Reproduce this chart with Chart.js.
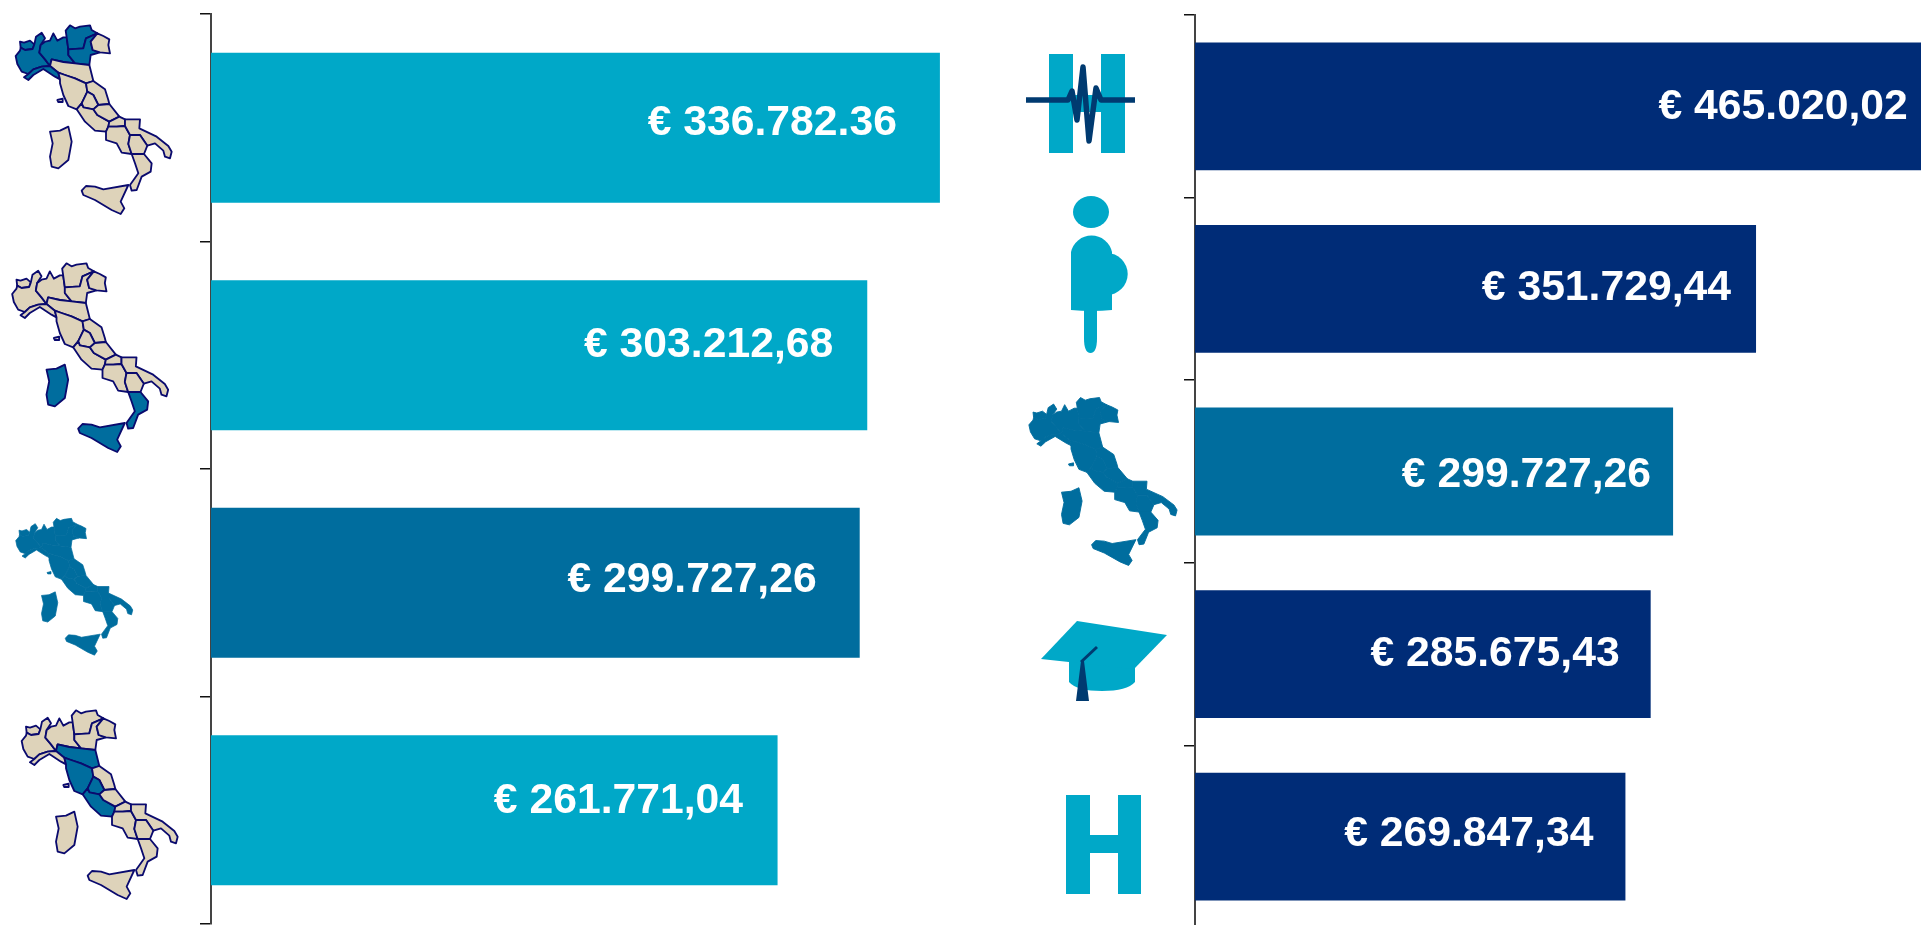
<!DOCTYPE html>
<html><head><meta charset="utf-8">
<script src="https://cdn.jsdelivr.net/npm/chart.js@4"></script>
<style>
html,body{margin:0;padding:0;background:#fff;overflow:hidden;width:1921px;height:925px}
#stage{position:relative;width:1921px;height:925px;overflow:hidden}
canvas{position:absolute}
svg{position:absolute;left:0;top:0}
</style></head><body>
<div id="stage">
<canvas id="left" width="988" height="940" style="left:0;top:0"></canvas>
<canvas id="right" width="960" height="940" style="left:1000px;top:0"></canvas>
<svg id="icons" width="1921" height="925" viewBox="0 0 1921 925"></svg>
</div>
<script>
const leftCategories=['Nord','Sud e Isole','Italia','Centro'];
const leftValues=[336782.36,303212.68,299727.26,261771.04];
const leftLabels=['€ 336.782.36','€ 303.212,68','€ 299.727,26','€ 261.771,04'];
const rightCategories=['Cardiologia','Ostetricia','Italia','Università','Ospedale'];
const rightValues=[465020.02,351729.44,299727.26,285675.43,269847.34];
const rightLabels=['€ 465.020,02','€ 351.729,44','€ 299.727,26','€ 285.675,43','€ 269.847,34'];

const CYAN='#00A8C8',TEAL='#006D9E',NAVY='#002C77',INK='#003A70';
const leftColors=[CYAN,CYAN,TEAL,CYAN];
const rightColors=[NAVY,NAVY,TEAL,NAVY,NAVY];

const labelPlugin={id:'barText',afterDatasetsDraw(c,_,o){
  const ctx=c.ctx,meta=c.getDatasetMeta(0),x=c.scales.x;
  ctx.save();ctx.fillStyle='#fff';ctx.font='bold 42.7px "Liberation Sans"';
  ctx.textAlign='right';ctx.textBaseline='middle';
  meta.data.forEach((b,i)=>{
    ctx.fillText(o.text[i],x.getPixelForValue(c.data.datasets[0].data[i])-o.dx[i],b.y+o.dy[i]);
  });
  ctx.restore();
}};
function build(id,cats,vals,cols,text,opt){
  return new Chart(document.getElementById(id),{
    type:'bar',
    data:{labels:cats,datasets:[{data:vals,backgroundColor:cols,borderWidth:0,
      categoryPercentage:1,barPercentage:opt.bar}]},
    plugins:[labelPlugin],
    options:{responsive:false,animation:false,indexAxis:'y',
      layout:{padding:{left:0,right:0,top:opt.top,bottom:opt.bottom}},
      plugins:{legend:{display:false},tooltip:{enabled:false},
        barText:{text,dx:opt.dx,dy:opt.dy}},
      scales:{
        x:{display:false,min:0,max:opt.max},
        y:{offset:true,afterFit:s=>{s.width=opt.axisX},
          ticks:{display:false},
          border:{display:true,color:'#444',width:2},
          grid:{drawOnChartArea:false,drawTicks:true,tickLength:11,color:'#111',lineWidth:1.5,offset:true}}
      }}
  });
}
build('left',leftCategories,leftValues,leftColors,leftLabels,{bar:.66,top:14,bottom:16,axisX:211,max:359000,
  dx:[43,34,43,34.5],dy:[-5,-10,-3,-9]});
build('right',rightCategories,rightValues,rightColors,rightLabels,{bar:.7,top:15,bottom:12,axisX:195,max:479600,
  dx:[29,25,22,31,32],dy:[0.5,-1,4,0,-2]});

/* pictograms */
const R={
vda:'60,125 72,128 90,122 103,133 98,147 75,150 62,143',
pie:'47,168 60,152 62,143 75,150 98,147 103,133 108,110 125,98 135,115 122,135 118,158 135,178 150,198 125,200 100,208 85,222 65,215 52,192',
lom:'118,158 122,135 135,125 150,122 160,100 172,122 190,112 200,112 205,148 205,165 225,190 190,186 155,178 150,198 135,178',
tre:'197,92 210,76 225,85 240,80 270,76 275,90 292,100 258,115 250,145 205,148 200,112',
ven:'205,148 250,145 258,115 292,100 272,125 278,150 300,157 272,165 268,195 225,190 205,165',
fri:'292,100 310,108 328,118 325,135 330,160 300,157 278,150 272,125',
emi:'155,178 190,186 225,190 268,195 280,243 258,250 225,235 195,225 175,218 150,198',
lig:'72,232 85,222 100,208 125,200 150,198 175,218 180,238 165,230 130,207 100,225 85,240',
tos:'175,218 195,225 225,235 258,250 262,275 245,310 230,328 205,318 190,285 180,250 180,238',
mar:'258,250 280,243 315,268 325,300 328,312 295,315 280,285 262,275',
umb:'262,275 280,285 295,315 280,328 250,322 245,310',
laz:'230,328 245,310 250,322 280,328 292,345 328,365 325,380 318,395 285,392 255,365',
abr:'295,315 328,312 358,350 328,365 292,345 280,328',
mol:'328,365 358,350 375,358 375,378 350,380 325,380',
cam:'318,395 325,380 350,380 375,378 390,405 385,432 395,462 365,458 350,430 318,420',
pug:'375,358 420,358 418,385 470,410 505,438 515,455 510,475 495,470 490,452 465,430 442,437 420,405 390,405 375,378',
bas:'390,405 420,405 442,437 432,462 395,462 385,432',
cal:'395,462 432,462 455,490 452,515 425,530 410,570 395,572 390,555 415,520 405,490',
sic:'245,572 258,558 285,560 310,568 385,555 362,605 373,625 362,642 335,630 285,600 250,585',
sar:'150,395 180,392 205,380 215,425 205,480 175,505 155,500 150,470 158,430',
elb:'172,300 188,296 188,306 175,306'};
const BEIGE='#DED3BA',LINE='#0A0A6E';
function italy(hi,tx,ty,sx,sy,mono){
  let s=`<g transform="translate(${tx} ${ty}) scale(${sx/3} ${sy/3})" stroke-linejoin="round">`;
  for(const k in R){
    const fill=mono||hi.includes(k)?TEAL:BEIGE;
    s+=`<polygon points="${R[k]}" fill="${fill}" stroke="${mono?TEAL:LINE}" stroke-width="${mono?3:5.5}"/>`;
  }
  return s+'</g>';
}
const poly=(p,f)=>`<polygon points="${p}" fill="${f}"/>`;
let svg='';
svg+=italy(['vda','pie','lig','lom','tre','ven'],0,0,1,1);
svg+=italy(['sic','sar','cal'],-3.5,238,1,1);
svg+=italy([],4,500,.75,.725,true);
svg+=italy(['emi','tos','umb','laz'],6,685,1,1);
svg+=italy([],1014,375,.95,.89,true);
/* H with trace */
svg+=`<rect x="1049" y="54" width="24" height="99" fill="${CYAN}"/><rect x="1101" y="54" width="24" height="99" fill="${CYAN}"/><rect x="1073" y="95" width="28" height="17" fill="${CYAN}"/>`;
svg+=`<polyline points="1026,100 1068,100 1072,91 1077,120 1083,67 1089,141 1096,88 1101,100 1135,100" fill="none" stroke="${INK}" stroke-width="5.5" stroke-linejoin="round"/>`;
/* expectant figure */
svg+=`<ellipse cx="1091" cy="212" rx="18" ry="16" fill="${CYAN}"/><circle cx="1106.7" cy="274" r="21" fill="${CYAN}"/>`;
svg+=`<path d="M1071 252a21 21 0 0 1 41 0V310q-20 2-41 0Z" fill="${CYAN}"/>`;
svg+=`<path d="M1084 308h13v30q0 15-6.500 15t-6.500-15Z" fill="${CYAN}"/>`;
/* cap */
svg+=`<path d="M1069 650V682q8 9 33 9t33-9V650Z" fill="${CYAN}"/>`;
svg+=poly('1077,621 1167,635 1134,669 1041,659',CYAN);
svg+=`<line x1="1081" y1="662" x2="1097" y2="647" stroke="${INK}" stroke-width="3"/>`;
svg+=poly('1081,661 1084,661 1089,701 1076,701',INK);
/* plain H */
svg+=`<rect x="1066" y="795" width="24" height="99" fill="${CYAN}"/><rect x="1118" y="795" width="23" height="99" fill="${CYAN}"/><rect x="1090" y="835" width="28" height="18" fill="${CYAN}"/>`;
document.getElementById('icons').innerHTML=svg;
</script>
</body></html>
